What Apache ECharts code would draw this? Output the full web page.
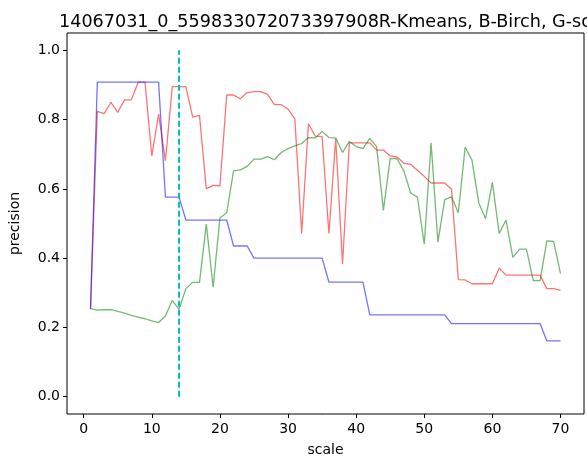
<!DOCTYPE html>
<html>
<head>
<meta charset="utf-8">
<script src="https://cdn.jsdelivr.net/npm/echarts@6/dist/echarts.min.js"></script>
<style>
html,body{margin:0;padding:0;background:#fff;}
#c{width:587px;height:462px;}
</style>
</head>
<body>
<div id="c"></div>
<script>
const titleText = "14067031_0_559833072073397908R-Kmeans, B-Birch, G-sc";
const scales = [1,2,3,4,5,6,7,8,9,10,11,12,13,14,15,16,17,18,19,20,21,22,23,24,25,26,27,28,29,30,31,32,33,34,35,36,37,38,39,40,41,42,43,44,45,46,47,48,49,50,51,52,53,54,55,56,57,58,59,60,61,62,63,64,65,66,67,68,69,70];
const kmeans = [0.254,0.824,0.817,0.850,0.821,0.857,0.857,0.908,0.908,0.695,
  0.816,0.681,0.895,0.895,0.895,0.807,0.812,0.600,0.610,0.609,
  0.871,0.871,0.860,0.878,0.881,0.881,0.873,0.843,0.843,0.830,
  0.802,0.471,0.788,0.752,0.751,0.471,0.745,0.383,0.733,0.733,
  0.733,0.733,0.712,0.712,0.695,0.692,0.674,0.671,0.654,0.636,
  0.617,0.617,0.617,0.599,0.338,0.337,0.326,0.326,0.326,0.326,
  0.371,0.351,0.351,0.351,0.351,0.351,0.351,0.312,0.312,0.307];
const birch = [0.254,0.908,0.908,0.908,0.908,0.908,0.908,0.908,0.908,0.908,
  0.908,0.576,0.576,0.576,0.510,0.510,0.510,0.510,0.510,0.510,
  0.510,0.435,0.435,0.435,0.400,0.400,0.400,0.400,0.400,0.400,
  0.400,0.400,0.400,0.400,0.400,0.331,0.331,0.331,0.331,0.331,
  0.331,0.236,0.236,0.236,0.236,0.236,0.236,0.236,0.236,0.236,
  0.236,0.236,0.236,0.211,0.211,0.211,0.211,0.211,0.211,0.211,
  0.211,0.211,0.211,0.211,0.211,0.211,0.211,0.161,0.161,0.161];
const gsc = [0.254,0.250,0.251,0.251,0.246,0.241,0.235,0.230,0.225,0.219,
  0.214,0.233,0.278,0.252,0.312,0.330,0.330,0.498,0.316,0.516,
  0.531,0.652,0.655,0.665,0.686,0.686,0.693,0.684,0.705,0.716,
  0.724,0.731,0.748,0.747,0.766,0.748,0.747,0.705,0.737,0.722,
  0.716,0.746,0.722,0.538,0.688,0.687,0.652,0.588,0.576,0.440,
  0.733,0.446,0.569,0.577,0.531,0.721,0.683,0.560,0.514,0.619,
  0.471,0.510,0.402,0.426,0.426,0.335,0.335,0.450,0.448,0.355];
const markX = 14;
const markY = [0, 1];
const xTicks = [0,10,20,30,40,50,60,70];
const yTicks = [0,0.2,0.4,0.6,0.8,1.0];

const pair = arr => scales.map((s,i)=>[s,arr[i]]);
const font = "DejaVu Sans";
const chart = echarts.init(document.getElementById('c'), null, {renderer:'canvas'});
const lineS = (name, data, color) => ({
  name, type:'line', data: pair(data), showSymbol:false, symbol:'none',
  lineStyle:{color, width:1.3, opacity:0.55}, itemStyle:{color},
  animation:false, silent:true
});
chart.setOption({
  animation:false,
  backgroundColor:'#fff',
  title:{text:titleText, left:54, top:8,
    textStyle:{fontFamily:font, fontSize:17.6, fontWeight:'normal', color:'#000'}},
  grid:{left:67, right:3, top:33, bottom:44, show:true, borderColor:'#000', borderWidth:1, backgroundColor:'transparent'},
  xAxis:{type:'value', min:-2.45, max:73.45, position:'bottom',
    name:'scale', nameLocation:'middle', nameGap:29,
    nameTextStyle:{fontFamily:font, fontSize:14, color:'#000'},
    axisLine:{show:false, onZero:false}, splitLine:{show:false},
    axisTick:{show:true, length:4, customValues:xTicks, lineStyle:{color:'#000'}},
    axisLabel:{fontFamily:font, fontSize:14, color:'#000', margin:8, customValues:xTicks}},
  yAxis:{type:'value', min:-0.05, max:1.05, position:'left',
    name:'precision', nameLocation:'middle', nameGap:45, nameRotate:90,
    nameTextStyle:{fontFamily:font, fontSize:14, color:'#000'},
    axisLine:{show:false, onZero:false}, splitLine:{show:false},
    axisTick:{show:true, length:4, customValues:yTicks, lineStyle:{color:'#000'}},
    axisLabel:{fontFamily:font, fontSize:14, color:'#000', margin:7, customValues:yTicks,
      formatter: v => v.toFixed(1)}},
  series:[
    lineS('Kmeans', kmeans, '#ff0000'),
    lineS('Birch', birch, '#0000ff'),
    lineS('G', gsc, '#008000'),
    {type:'line', data: markY.map(y=>[markX,y]), showSymbol:false, symbol:'none',
      lineStyle:{color:'#00bfbf', width:2, type:[6,3]}, animation:false, silent:true}
  ]
});
</script>
</body>
</html>
